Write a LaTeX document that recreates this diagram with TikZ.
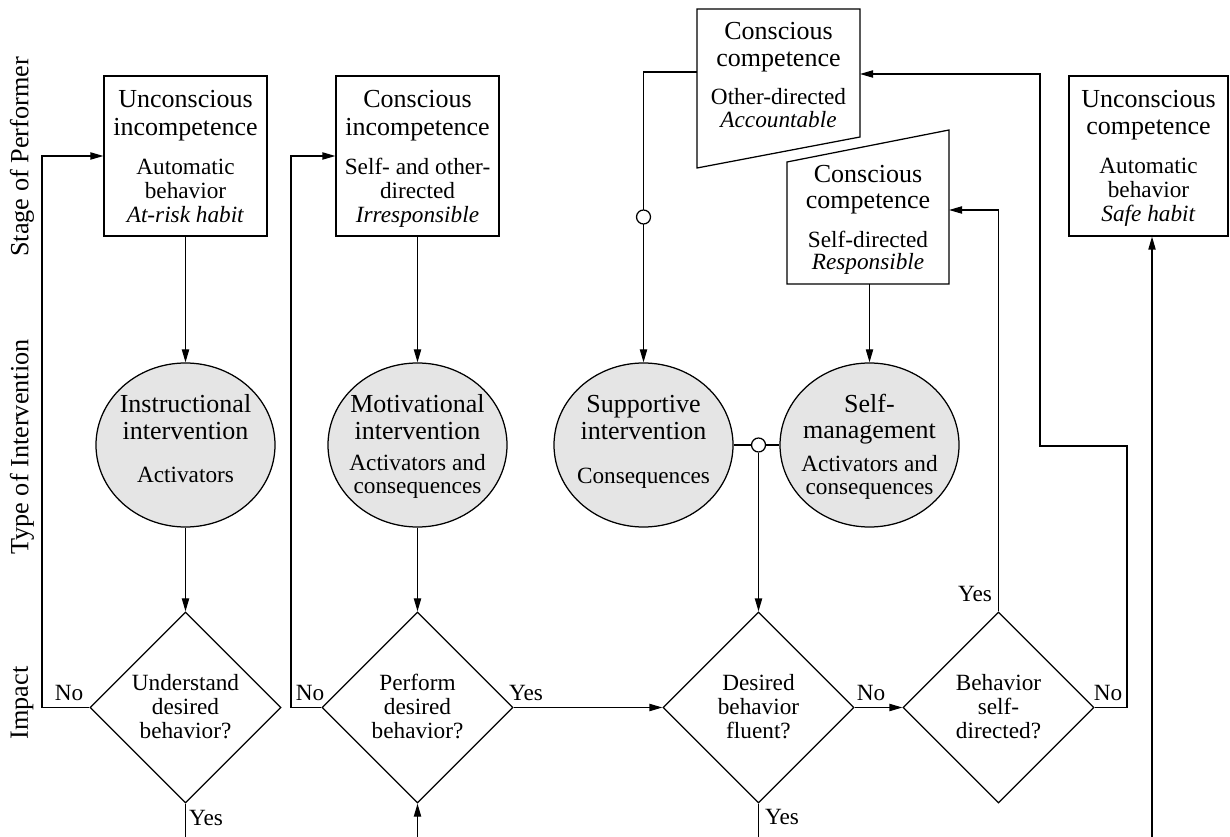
\documentclass[tikz,border=0pt]{standalone}
\usepackage{fontspec}
\setmainfont{Liberation Serif}
\usetikzlibrary{arrows.meta,shapes.geometric}
\newcommand\bigf{\fontsize{10.4}{9.6}\selectfont}
\newcommand\smf{\fontsize{9.3}{9.6}\selectfont}
\begin{document}
\begin{tikzpicture}[x=0.4pt,y=-0.4pt,
  ln/.style={line width=0.5pt},
  arr/.style={ln,-{Triangle[length=5.2pt,width=2.9pt]}},
  stbox/.style={draw,ln,rectangle,inner sep=0pt,minimum width=65.2pt,minimum height=64pt},
  ell/.style={draw,ln,ellipse,fill=black!10,inner sep=0pt,minimum width=71.6pt,minimum height=65.6pt},
  dia/.style={draw,ln,diamond,inner sep=0pt,minimum width=76.4pt,minimum height=76.4pt},
  junc/.style={draw,ln,circle,fill=white,inner sep=0pt,minimum size=5.6pt},
  txt/.style={anchor=base,inner sep=0pt,font=\smf},
  lab/.style={anchor=base,inner sep=0pt,font=\smf},
  side/.style={rotate=90,inner sep=0pt,font=\fontsize{10.5}{11}\selectfont},
]
\useasboundingbox (0,0) rectangle (1230,837);
\fill[white] (0,0) rectangle (1230,837);

% side labels
\node[side] (s1) at (22,157) {Stage of Performer};
\node[side] (s2) at (22,447) {Type of Intervention};
\node[side] (s3) at (22,703) {Impact};

% stage boxes
\node[stbox] (b1) at (185.5,156) {};
\node[stbox] (b2) at (417.5,156) {};
\node[stbox,minimum width=63.6pt] (b5) at (1148.5,156) {};
\draw[ln] (697,9) -- (860,9) -- (860,137) -- (697,168) -- cycle;
\draw[ln] (787,162) -- (949,130) -- (949,284) -- (787,284) -- cycle;
\coordinate (b3l) at (697,72);
\coordinate (b3r) at (860,74);
\coordinate (b4r) at (949,210);
\coordinate (b4b) at (869.5,284);

\node[txt] (t1) at (185.5,108) {\begin{tabular}[t]{@{}c@{}}\bigf Unconscious\\[1.2pt]\bigf incompetence\\[6pt]Automatic\\behavior\\\textit{At-risk habit}\end{tabular}};
\node[txt] (t2) at (417.5,108) {\begin{tabular}[t]{@{}c@{}}\bigf Conscious\\[1.2pt]\bigf incompetence\\[6pt]Self- and other-\\directed\\\textit{Irresponsible}\end{tabular}};
\node[txt] (t3) at (778.5,40) {\begin{tabular}[t]{@{}c@{}}\bigf Conscious\\[1.2pt]\bigf competence\\[5.6pt]Other-directed\\[-0.4pt]\textit{Accountable}\end{tabular}};
\node[txt] (t4) at (868,183) {\begin{tabular}[t]{@{}c@{}}\bigf Conscious\\[0.8pt]\bigf competence\\[6pt]Self-directed\\[-0.8pt]\textit{Responsible}\end{tabular}};
\node[txt] (t5) at (1148.5,108) {\begin{tabular}[t]{@{}c@{}}\bigf Unconscious\\[1.2pt]\bigf competence\\[6pt]Automatic\\behavior\\\textit{Safe habit}\end{tabular}};

% interventions
\node[ell] (c1) at (185.5,445) {};
\node[ell] (c2) at (417.5,445) {};
\node[ell] (c3) at (643.5,445) {};
\node[ell] (c4) at (869.5,445) {};
\node[txt] (tc1) at (185.5,413) {\begin{tabular}[t]{@{}c@{}}\bigf Instructional\\[0.8pt]\bigf intervention\\[7.6pt]Activators\end{tabular}};
\node[txt] (tc2) at (417.5,413) {\begin{tabular}[t]{@{}c@{}}\bigf Motivational\\[0.8pt]\bigf intervention\\[2.8pt]Activators and\\[-0.4pt]consequences\end{tabular}};
\node[txt] (tc3) at (643.5,413) {\begin{tabular}[t]{@{}c@{}}\bigf Supportive\\[0.8pt]\bigf intervention\\[8pt]Consequences\end{tabular}};
\node[txt] (tc4) at (869.5,413) {\begin{tabular}[t]{@{}c@{}}\bigf Self-\\[0.8pt]\bigf management\\[3.6pt]Activators and\\[-0.4pt]consequences\end{tabular}};

% decisions
\node[dia] (d1) at (185.5,707.5) {};
\node[dia] (d2) at (417.5,707.5) {};
\node[dia] (d3) at (758.5,707.5) {};
\node[dia] (d4) at (998.5,707.5) {};
\node[txt] (td1) at (185.5,690) {\begin{tabular}[t]{@{}c@{}}Understand\\desired\\behavior?\end{tabular}};
\node[txt] (td2) at (417.5,690) {\begin{tabular}[t]{@{}c@{}}Perform\\desired\\behavior?\end{tabular}};
\node[txt] (td3) at (758.5,690) {\begin{tabular}[t]{@{}c@{}}Desired\\behavior\\fluent?\end{tabular}};
\node[txt] (td4) at (998.5,690) {\begin{tabular}[t]{@{}c@{}}Behavior\\self-\\directed?\end{tabular}};

% helper coordinates
\coordinate (n1) at (42,707.5);
\coordinate (n2) at (291,707.5);
\coordinate (e1) at (185.5,837);
\coordinate (e2) at (417.5,837);
\coordinate (e3) at (758.5,837);
\coordinate (e5) at (1152,837);
\coordinate (r1) at (1127,707.5);
\coordinate (r2) at (1127,446);
\coordinate (r3) at (1040,446);
\coordinate (r4) at (1040,74);
\coordinate (y4) at (998.5,210);
\coordinate (k3) at (643.5,72);

% connectors
\draw[arr] (b1) -- (c1);
\draw[arr] (c1) -- (d1);
\draw[arr] (d1.west) -- (n1) |- (b1.west);
\draw[ln] (d1.south) -- (e1);
\draw[arr] (b2) -- (c2);
\draw[arr] (c2) -- (d2);
\draw[arr] (d2.west) -- (n2) |- (b2.west);
\draw[arr] (e2) -- (d2.south);
\draw[arr] (d2.east) -- (d3.west);
\draw[ln] (d3.south) -- (e3);
\draw[arr] (d3.east) -- (d4.west);
\draw[arr] (d4.north) -- (y4) -- (b4r);
\draw[arr] (d4.east) -- (r1) -- (r2) -- (r3) -- (r4) -- (b3r);
\draw[arr] (e5) -- (e5 |- b5.south);
\draw[arr] (b3l) -- (k3) -- (c3.north);
\node[junc] (j1) at (643.5,217) {};
\draw[arr] (b4b) -- (c4.north);
\draw[ln] (c3.east) -- (c4.west);
\node[junc] (j2) at (758.5,445) {};
\draw[arr] (j2.south) -- (d3.north);

% yes / no labels
\node[lab] (l1) at (69,700) {No};
\node[lab] (l2) at (310,700) {No};
\node[lab] (l3) at (526,700) {Yes};
\node[lab] (l4) at (871,700) {No};
\node[lab] (l5) at (1108,700) {No};
\node[lab] (l6) at (975,601) {Yes};
\node[lab] (l7) at (206,825) {Yes};
\node[lab] (l8) at (782,824) {Yes};
\end{tikzpicture}
\end{document}
